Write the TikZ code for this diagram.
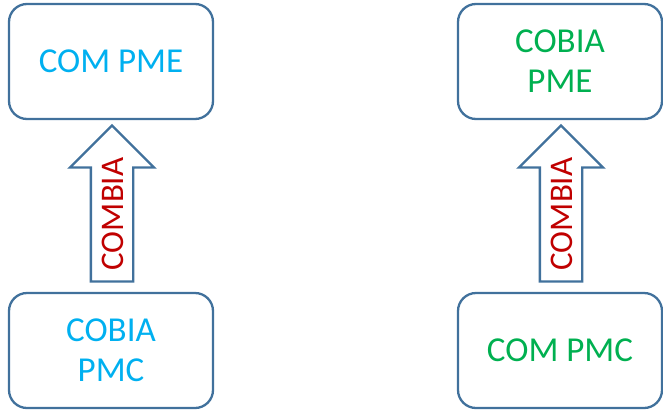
\documentclass[tikz,border=0pt]{standalone}
\usepackage{fontspec}
\setmainfont{Carlito}
\usetikzlibrary{shapes.arrows}
\definecolor{boxblue}{RGB}{65,113,156}
\definecolor{txtcyan}{RGB}{0,176,240}
\definecolor{txtgreen}{RGB}{0,176,80}
\definecolor{txtred}{RGB}{192,0,0}

\begin{document}
\begin{tikzpicture}[x=1pt,y=-1pt,
  pmbox/.style={draw=boxblue,line width=2.3pt,rounded corners=18pt,minimum width=204pt,minimum height=115pt,align=center,font=\fontsize{35}{40}\selectfont},
  uparrow/.style={single arrow,draw=boxblue,line width=2.3pt,rotate=90,minimum height=156pt,single arrow head extend=21pt,inner sep=0pt,text height=31pt,text depth=9pt,font=\fontsize{33}{33}\selectfont,text=txtred}]
\useasboundingbox (0,0) rectangle (663,410);
% left pair
\node[pmbox,text=txtcyan] (comPME) at (111,61.5) {COM PME};
\node[pmbox,text=txtcyan] (cobiaPMC) at (111,350.5) {COBIA\\PMC};
\node[uparrow] (leftArrow) at (112,214) {COMBIA};
% right pair
\node[pmbox,text=txtgreen] (cobiaPME) at (560,61.5) {COBIA\\PME};
\node[pmbox,text=txtgreen] (comPMC) at (560,350.5) {COM PMC};
\node[uparrow] (rightArrow) at (561,214) {COMBIA};
\end{tikzpicture}
\end{document}
